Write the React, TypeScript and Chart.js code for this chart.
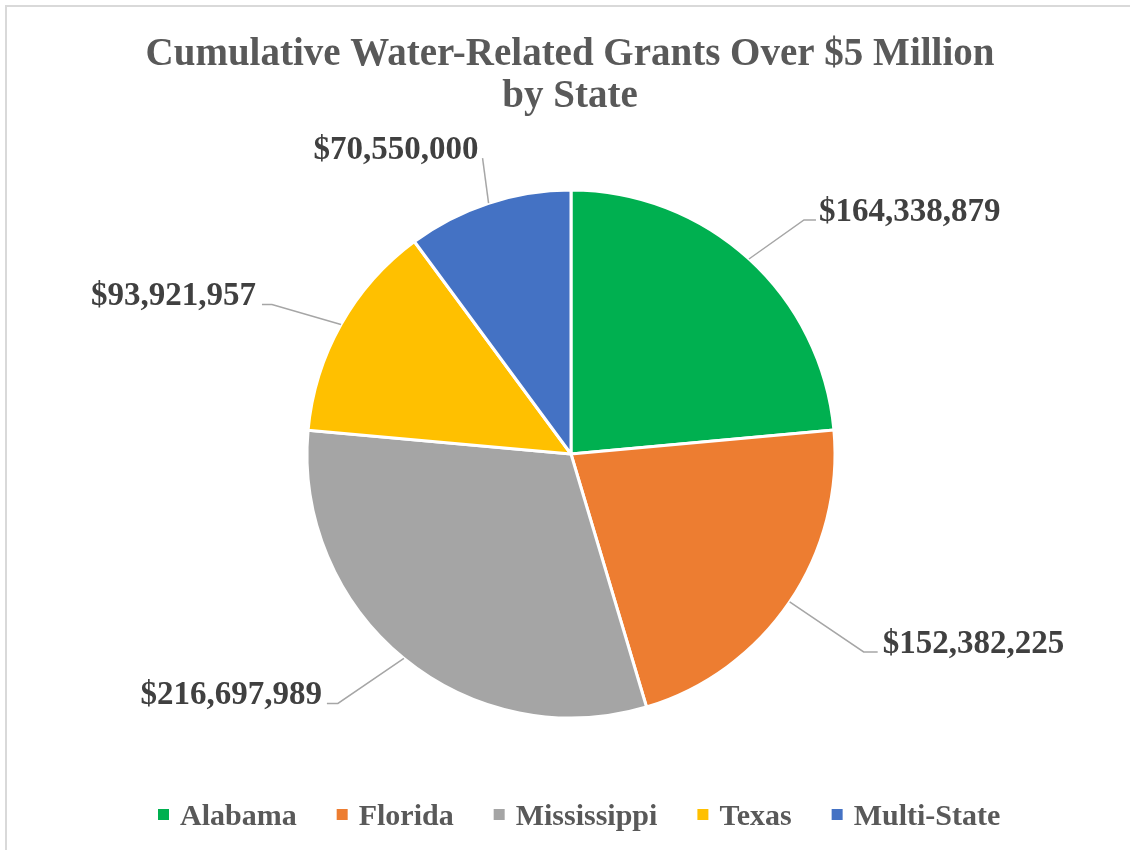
import React, { useEffect, useRef } from "react";
import { Chart, registerables } from "chart.js";

Chart.register(...registerables);

// ---- data ----
const categories = ["Alabama", "Florida", "Mississippi", "Texas", "Multi-State"];
const grantValues = [164338879, 152382225, 216697989, 93921957, 70550000];
const sliceColors = ["#00B050", "#ED7D31", "#A5A5A5", "#FFC000", "#4472C4"];
const titleLines = ["Cumulative Water-Related Grants Over $5 Million", "by State"];

// ---- styling / layout (not data) ----
const FONT = '"Liberation Serif", "Times New Roman", serif';
const TITLE_COLOR = "#595959";
const LABEL_COLOR = "#404040";
const LEADER_COLOR = "#A6A6A6";
// leader line layout per slice: elbow offset from slice edge, horizontal run, side
const labelLayout = [
  { dx: 55, dy: -39, run: 12, side: 1, gap: 3 },
  { dx: 74, dy: 50, run: 14, side: 1, gap: 5 },
  { dx: -66, dy: 45, run: 11, side: -1, gap: 5 },
  { dx: -69, dy: -20, run: 10, side: -1, gap: 6 },
  { dx: -6, dy: -45, run: 0, side: -1, gap: 4 },
];

const fmt = (v: number) => "$" + v.toLocaleString("en-US");

const overlayPlugin = {
  id: "overlay",
  afterDatasetsDraw(chart: any) {
    const ctx = chart.ctx;
    const meta = chart.getDatasetMeta(0);
    ctx.save();
    // data labels with leader lines
    meta.data.forEach((arc: any, i: number) => {
      const p = arc.getProps(["x", "y", "startAngle", "endAngle", "outerRadius"], true);
      const mid = (p.startAngle + p.endAngle) / 2;
      const ex = p.x + Math.cos(mid) * p.outerRadius;
      const ey = p.y + Math.sin(mid) * p.outerRadius;
      const L = labelLayout[i];
      const bx = ex + L.dx;
      const by = ey + L.dy;
      const endX = bx + L.side * L.run;
      ctx.beginPath();
      ctx.strokeStyle = LEADER_COLOR;
      ctx.lineWidth = 1.5;
      ctx.moveTo(ex, ey);
      ctx.lineTo(bx, by);
      if (L.run > 0) ctx.lineTo(endX, by);
      ctx.stroke();
      ctx.fillStyle = LABEL_COLOR;
      ctx.font = `bold 33px ${FONT}`;
      ctx.textBaseline = "alphabetic";
      ctx.textAlign = L.side > 0 ? "left" : "right";
      ctx.fillText(fmt(grantValues[i]), endX + L.side * L.gap, by + 1);
    });
    // title
    ctx.fillStyle = TITLE_COLOR;
    ctx.font = `bold 39px ${FONT}`;
    ctx.textAlign = "center";
    ctx.textBaseline = "alphabetic";
    titleLines.forEach((t, k) => ctx.fillText(t, 570, 65 + k * 42));
    // legend
    ctx.font = `bold 30px ${FONT}`;
    ctx.textAlign = "left";
    let x = 158;
    categories.forEach((c, i) => {
      ctx.fillStyle = sliceColors[i];
      ctx.fillRect(x, 809, 11, 11);
      ctx.fillStyle = TITLE_COLOR;
      ctx.fillText(c, x + 22, 825);
      x += 22 + ctx.measureText(c).width + 40;
    });
    ctx.restore();
  },
};

export default function App() {
  const ref = useRef<HTMLCanvasElement | null>(null);
  useEffect(() => {
    if (!ref.current) return;
    const chart = new Chart(ref.current, {
      type: "pie",
      data: {
        labels: categories,
        datasets: [
          {
            data: grantValues,
            backgroundColor: sliceColors,
            borderColor: "#FFFFFF",
            borderWidth: 3,
          },
        ],
      },
      options: {
        responsive: false,
        animation: false,
        devicePixelRatio: 1,
        radius: 264,
        layout: { padding: { left: 308, right: 296, top: 191, bottom: 133 } },
        plugins: {
          legend: { display: false },
          title: { display: false },
          tooltip: { enabled: false },
        },
      } as any,
      plugins: [overlayPlugin],
    });
    return () => chart.destroy();
  }, []);

  return (
    <div
      style={{
        position: "fixed",
        left: 0,
        top: 0,
        width: 1130,
        height: 850,
        overflow: "hidden",
        background: "#FFFFFF",
      }}
    >
      <div
        style={{
          position: "absolute",
          left: 5,
          top: 5,
          width: 2000,
          height: 2000,
          border: "2px solid #D9D9D9",
        }}
      />
      <canvas
        ref={ref}
        width={1130}
        height={850}
        style={{ position: "absolute", left: 0, top: 0, width: 1130, height: 850 }}
      />
    </div>
  );
}
